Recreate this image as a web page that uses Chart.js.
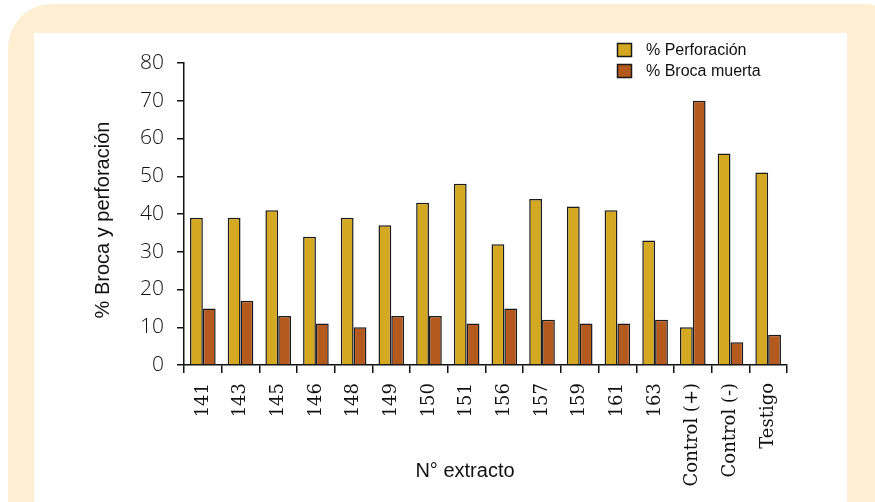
<!DOCTYPE html>
<html>
<head>
<meta charset="utf-8">
<script src="https://cdn.jsdelivr.net/npm/chart.js@4.4.1/dist/chart.umd.min.js"></script>
<style>
  html, body { margin: 0; padding: 0; background: #ffffff; }
  #wrap { position: relative; width: 875px; height: 502px; overflow: hidden; }
  #frame { position: absolute; left: 8px; top: 4px; width: 900px; height: 560px;
           background: #feefd2; border-radius: 44px; }
  #panel { position: absolute; left: 34px; top: 33px; width: 813px; height: 520px; background: #ffffff; }
  #chart { position: absolute; left: 0; top: 0; }
</style>
</head>
<body>
<div id="wrap">
  <div id="frame"></div>
  <div id="panel"></div>
  <canvas id="chart" width="875" height="502"></canvas>
</div>
<script>
// Extract codes and controls on the x axis
const categories = ['141', '143', '145', '146', '148', '149', '150', '151', '156', '157',
                    '159', '161', '163', 'Control (+)', 'Control (-)', 'Testigo'];
// % perforation per extract
const perforacion = [39, 39, 41, 34, 39, 37, 43, 48, 32, 44, 42, 41, 33, 10, 56, 51];
// % dead borer per extract
const brocaMuerta = [15, 17, 13, 11, 10, 13, 13, 11, 15, 12, 11, 11, 12, 70, 6, 8];
// y-axis ticks
const yTicks = [0, 10, 20, 30, 40, 50, 60, 70, 80];

const seriesNames = ['% Perforación', '% Broca muerta'];
const seriesColors = ['#d4a921', '#b55a1f'];

// Axis captions and legend drawn at fixed spots
const captions = {
  id: 'captions',
  afterDraw(chart) {
    const ctx = chart.ctx;
    ctx.save();
    ctx.fillStyle = '#111';
    ctx.font = '20px "Liberation Sans", Arial, sans-serif';
    ctx.textAlign = 'center';
    ctx.textBaseline = 'middle';
    ctx.fillText('N° extracto', 465, 471);
    ctx.save();
    ctx.translate(103, 220);
    ctx.rotate(-Math.PI / 2);
    ctx.fillText('% Broca y perforación', 0, 0);
    ctx.restore();

    // legend
    ctx.font = '16px "Liberation Sans", Arial, sans-serif';
    ctx.textAlign = 'left';
    chart.data.datasets.forEach((ds, i) => {
      const y = 43 + i * 21;
      ctx.fillStyle = ds.backgroundColor;
      ctx.fillRect(617, y, 15, 14);
      ctx.strokeStyle = '#1a1a1a';
      ctx.lineWidth = 1.5;
      ctx.strokeRect(617.5, y + 0.5, 14, 13);
      ctx.fillStyle = '#111';
      ctx.fillText(ds.label, 646, y + 8);
    });
    ctx.restore();
  }
};

new Chart(document.getElementById('chart'), {
  type: 'bar',
  data: {
    labels: categories,
    datasets: [
      { label: seriesNames[0], data: perforacion, backgroundColor: seriesColors[0],
        borderColor: '#1a1a1a', borderWidth: 1.5 },
      { label: seriesNames[1], data: brocaMuerta, backgroundColor: seriesColors[1],
        borderColor: '#1a1a1a', borderWidth: 1.5 }
    ]
  },
  options: {
    responsive: false,
    animation: false,
    layout: { padding: { top: 63, right: 88, left: 0, bottom: 0 } },
    datasets: { bar: { categoryPercentage: 0.68, barPercentage: 1.0 } },
    plugins: { legend: { display: false }, tooltip: { enabled: false } },
    scales: {
      x: {
        afterFit(scale) { scale.height = 137; },
        grid: { display: true, drawOnChartArea: false, offset: true, tickLength: 8,
                color: '#111', lineWidth: 1.5 },
        border: { display: true, color: '#111', width: 1.5 },
        ticks: {
          autoSkip: false, maxRotation: 90, minRotation: 90, padding: 10,
          color: '#111', font: { family: '"DejaVu Serif", serif', size: 18 }
        }
      },
      y: {
        min: 0, max: 80,
        afterFit(scale) { scale.width = 184; },
        afterBuildTicks(scale) { scale.ticks = yTicks.map(v => ({ value: v })); },
        grid: { display: true, drawOnChartArea: false, tickLength: 7,
                color: '#111', lineWidth: 1.5 },
        border: { display: true, color: '#111', width: 1.5 },
        ticks: {
          padding: 13, color: '#111',
          font: { family: '"Open Sans", sans-serif', size: 21, weight: 300 }
        }
      }
    }
  },
  plugins: [captions]
});
</script>
</body>
</html>
